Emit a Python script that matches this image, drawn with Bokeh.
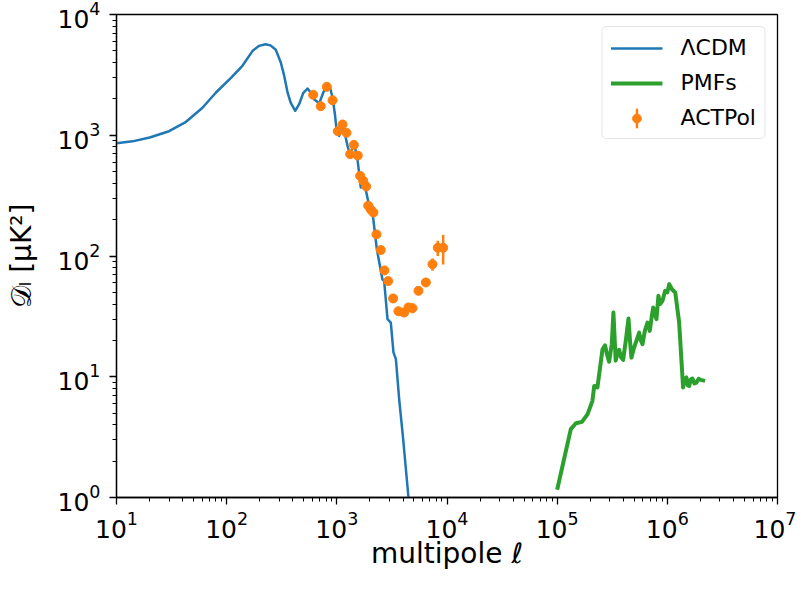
from bokeh.plotting import figure
from bokeh.models import Range1d, Legend, LegendItem, ColumnDataSource
from bokeh.embed import file_html
from bokeh.resources import INLINE

# ---- data ----
lcdm_ell = [10, 14, 20, 30, 42, 60, 80, 110, 139, 172, 197, 225, 250, 279, 310, 333, 357, 381,
            419, 455, 495, 542, 580, 621, 692, 760, 823, 870, 914, 960, 1000, 1050, 1142, 1250,
            1312, 1438, 1539, 1651, 1772, 1965, 2109, 2307, 2594, 2687, 2884, 3090, 3266, 3436,
            3681, 4001, 4470, 4600]
lcdm_dl = [859, 890, 957, 1080, 1276, 1680, 2260, 3000, 3758, 5000, 5500, 5675, 5550, 5100,
           4000, 3100, 2260, 1866, 1594, 1807, 2230, 2440, 2250, 1990, 1841, 2300, 2535, 2450,
           2055, 1500, 1054, 988, 1197, 818, 697, 843, 634, 369, 406, 261, 229, 114, 64, 62.4,
           30, 28.1, 15.9, 14, 6.5, 3.04, 1.0, 0.75]

pmf_ell = [1.00e5, 1.33e5, 1.48e5, 1.68e5, 1.89e5, 2.09e5, 2.17e5, 2.32e5, 2.58e5, 2.72e5,
           2.85e5, 2.96e5, 3.13e5, 3.24e5, 3.33e5, 3.40e5, 3.52e5, 3.65e5, 3.80e5, 3.97e5,
           4.20e5, 4.44e5, 4.58e5, 4.72e5, 4.95e5, 5.17e5, 5.35e5, 5.55e5, 5.75e5, 5.95e5,
           6.25e5, 6.60e5, 6.93e5, 7.20e5, 7.44e5, 7.97e5, 8.30e5, 8.60e5, 9.03e5, 9.55e5,
           1.00e6, 1.04e6, 1.10e6, 1.18e6, 1.28e6, 1.39e6, 1.44e6, 1.49e6, 1.53e6, 1.58e6,
           1.63e6, 1.69e6, 1.76e6, 1.84e6, 1.92e6, 2.01e6, 2.20e6]
pmf_dl = [1.16, 3.68, 4.12, 4.23, 4.9, 6.32, 8.4, 8.15, 16.9, 18.2,
          15.0, 13.3, 18.6, 34.0, 20.0, 13.6, 15.5, 16.7, 14.5, 13.8,
          20.0, 30.4, 20.0, 14.4, 17.0, 19.2, 21.0, 23.2, 20.0, 18.6,
          24.0, 28.1, 24.0, 31.0, 37.4, 30.0, 46.8, 40.0, 42.5, 51.5,
          50.0, 58.5, 53.0, 49.9, 28.1, 8.15, 9.6, 9.86, 8.5, 8.4,
          9.5, 9.67, 8.8, 8.95, 9.6, 9.43, 9.25]

act_ell = [610, 714, 811, 914, 1021, 1126, 1224, 1322, 1427, 1549, 1628, 1735, 1846, 1926, 2034,
           2149, 2291, 2505, 2706, 2924, 3243, 3624, 4080, 4467, 4860, 5510, 6430, 7380, 8250, 9230]
act_dl = [2163, 1741, 2518, 1950, 1081, 1228, 1047, 697, 833, 679, 461, 420, 377, 261, 242,
          229, 151, 112, 76, 62, 44.5, 34.9, 34.0, 37.5, 37.0, 51.5, 60.4, 85.5, 117, 117]
act_err = [60, 50, 50, 40, 25, 25, 20, 15, 15, 12, 10, 8, 8, 6, 6,
           5, 4, 3, 2.5, 2, 2, 2, 2, 2.5, 3.5, 3, 5, 10, 17, 32]

C_BLUE = "#1f77b4"
C_ORANGE = "#ff7f0e"
C_GREEN = "#2ca02c"
FONT = "DejaVu Sans"

p = figure(width=796, height=574, x_axis_type="log", y_axis_type="log",
           x_range=Range1d(10, 1e7), y_range=Range1d(1, 1e4),
           output_backend="svg", toolbar_location=None,
           min_border_left=116, min_border_right=19, min_border_top=14, min_border_bottom=77)

p.grid.visible = False
p.outline_line_color = "black"
p.outline_line_width = 1.3
p.outline_line_alpha = 1.0
p.background_fill_color = "white"
p.border_fill_color = "white"

for ax in (p.xaxis[0], p.yaxis[0]):
    ax.major_label_text_font = FONT
    ax.major_label_text_font_size = "25px"
    ax.major_label_text_color = "black"
    ax.axis_label_text_font = FONT
    ax.axis_label_text_font_size = "28px"
    ax.axis_label_text_font_style = "normal"
    ax.axis_label_text_color = "black"
    ax.axis_line_color = "black"
    ax.axis_line_width = 1.3
    ax.major_tick_in = 0
    ax.major_tick_out = 7
    ax.minor_tick_in = 0
    ax.minor_tick_out = 4
    ax.major_tick_line_width = 1.3
    ax.minor_tick_line_width = 1.0

p.xaxis.major_label_standoff = 6
p.yaxis.major_label_standoff = 9
p.xaxis.axis_label = "multipole ℓ"
p.yaxis.axis_label = "𝒟ₗ [μK²]"
p.xaxis.axis_label_standoff = -4
p.yaxis.axis_label_standoff = 17

src_l = ColumnDataSource(dict(x=lcdm_ell, y=lcdm_dl))
src_p = ColumnDataSource(dict(x=pmf_ell, y=pmf_dl))
lo = [d - e for d, e in zip(act_dl, act_err)]
hi = [d + e for d, e in zip(act_dl, act_err)]
src_a = ColumnDataSource(dict(x=act_ell, y=act_dl, lo=lo, hi=hi))

r_l = p.line("x", "y", source=src_l, line_color=C_BLUE, line_width=2.5, line_join="round")
r_p = p.line("x", "y", source=src_p, line_color=C_GREEN, line_width=4, line_join="round")
r_e = p.segment(x0="x", y0="lo", x1="x", y1="hi", source=src_a, line_color=C_ORANGE, line_width=2.5)
r_s = p.scatter("x", "y", source=src_a, size=9, fill_color=C_ORANGE, line_color=C_ORANGE)

# legend-only vertical bar for the error-bar entry
r_v = p.ellipse(x=[float("nan")], y=[float("nan")], width=0.001, height=22,
                width_units="screen", height_units="screen",
                fill_alpha=0, line_color=C_ORANGE, line_width=2.5)

legend = Legend(items=[
    LegendItem(label="ΛCDM", renderers=[r_l]),
    LegendItem(label="PMFs", renderers=[r_p]),
    LegendItem(label="ACTPol", renderers=[r_v, r_s]),
], location="top_right")
legend.label_text_font = FONT
legend.label_text_font_size = "22px"
legend.label_text_color = "black"
legend.glyph_width = 52
legend.glyph_height = 22
legend.label_standoff = 18
legend.spacing = 10
legend.padding = 8
legend.margin = 12
legend.border_line_color = "#cccccc"
legend.border_line_width = 1.2
legend.border_radius = 5
legend.background_fill_alpha = 0.8
p.add_layout(legend)

open("out.html", "w").write(file_html(p, INLINE))
